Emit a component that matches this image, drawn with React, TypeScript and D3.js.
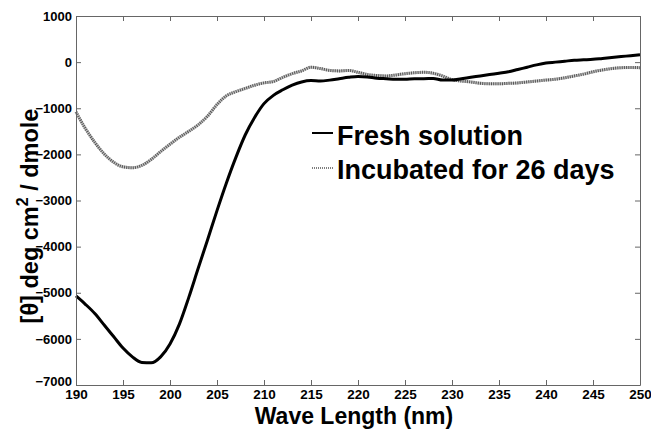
import React, { useRef, useEffect } from 'react';
import * as d3 from 'd3';

// wavelength (nm), 1 nm steps
const waveLengths = d3.range(190, 251);

const freshSolution = [
    -5070, -5250, -5450, -5700, -5950, -6200, -6390, -6510, -6520, -6390,
    -6110, -5680, -5100, -4470, -3850, -3220, -2620, -2070, -1580, -1200,
    -900, -720, -600, -500, -430, -400, -410, -390, -360, -330,
    -310, -320, -350, -360, -370, -370, -360, -360, -355, -390,
    -390, -360, -330, -300, -270, -240, -210, -160, -110, -60,
    -20, 0, 20, 40, 50, 60, 80, 100, 120, 140,
    160
];

const incubated26Days = [
    -1080, -1440, -1740, -1990, -2170, -2270, -2290, -2240, -2110, -1940,
    -1780, -1630, -1500, -1360, -1170, -920, -730, -640, -570, -500,
    -450, -420, -330, -250, -190, -110, -140, -180, -190, -180,
    -220, -270, -290, -300, -280, -250, -230, -220, -240, -300,
    -380, -410, -430, -460, -470, -470, -460, -450, -430, -410,
    -390, -370, -340, -300, -260, -210, -170, -140, -120, -115,
    -120
];

const seriesNames = ["Fresh solution", "Incubated for 26 days"];
const xTicks = d3.range(190, 251, 5);
const yTicks = d3.range(-7000, 1001, 1000);

const App = () => {

    const svgRef = useRef(null);

    useEffect(() => {

        const svgWidth = 651;
        const svgHeight = 429;

        const margin = { top: 16, right: 11, bottom: 44, left: 76 };

        const width = svgWidth - margin.left - margin.right;
        const height = svgHeight - margin.top - margin.bottom;

        const svg = d3.select(svgRef.current)
            .attr("width", svgWidth)
            .attr("height", svgHeight)
            .style("font-family", "'Liberation Sans', Arial, sans-serif");

        svg.selectAll("*").remove();

        const g = svg.append("g").attr("transform", `translate(${margin.left}, ${margin.top})`);

        const xScale = d3.scaleLinear().domain([190, 250]).range([0, width]);
        const yScale = d3.scaleLinear().domain([-7000, 1000]).range([height, 0]);

        const line = d3
            .line()
            .x((d) => xScale(d[0]))
            .y((d) => yScale(d[1]))
            .curve(d3.curveMonotoneX);

        const freshData = waveLengths.map((w, i) => [w, freshSolution[i]]);
        const incData = waveLengths.map((w, i) => [w, incubated26Days[i]]);

        // incubated: grey hatched look
        g.append("path")
            .datum(incData)
            .attr("fill", "none")
            .attr("stroke", "#c4c4c4")
            .attr("stroke-width", 3)
            .attr("d", line);
        g.append("path")
            .datum(incData)
            .attr("fill", "none")
            .attr("stroke", "#555")
            .attr("stroke-width", 3)
            .attr("stroke-dasharray", "1,1.2")
            .attr("d", line);

        g.append("path")
            .datum(freshData)
            .attr("fill", "none")
            .attr("stroke", "#000")
            .attr("stroke-width", 3)
            .attr("stroke-linejoin", "round")
            .attr("d", line);

        // frame + inward ticks on all four sides
        const axisColor = "#666";
        const bottom = g.append("g")
            .attr("transform", `translate(0,${height})`)
            .call(d3.axisBottom(xScale).tickValues(xTicks).tickSizeInner(-5).tickSizeOuter(0).tickPadding(4).tickFormat(d3.format("d")));
        bottom.selectAll("text")
            .attr("font-size", 13.5)
            .attr("font-weight", "bold")
            .attr("fill", "#000");

        g.append("g")
            .call(d3.axisTop(xScale).tickValues(xTicks).tickSizeInner(-5).tickSizeOuter(0).tickFormat(() => ""));

        const left = g.append("g")
            .call(d3.axisLeft(yScale).tickValues(yTicks).tickSizeInner(-5).tickSizeOuter(0).tickPadding(4).tickFormat(d3.format("d")));
        left.selectAll("text")
            .attr("font-size", 13)
            .attr("font-weight", "bold")
            .attr("fill", "#000");
        // lowest label sits a little above the corner, as in the original
        left.selectAll(".tick text").filter((d) => d === -7000).attr("y", -4);

        g.append("g")
            .attr("transform", `translate(${width},0)`)
            .call(d3.axisRight(yScale).tickValues(yTicks).tickSizeInner(-5).tickSizeOuter(0).tickFormat(() => ""));

        g.selectAll(".domain").attr("stroke", axisColor);
        g.selectAll(".tick line").attr("stroke", axisColor);

        // axis titles
        svg.append("text")
            .attr("x", margin.left + width / 2 - 4)
            .attr("y", 424)
            .attr("text-anchor", "middle")
            .attr("font-size", 23)
            .attr("font-weight", "bold")
            .text("Wave Length (nm)");

        const yTitle = svg.append("text")
            .attr("transform", "translate(38, 216) rotate(-90)")
            .attr("text-anchor", "middle")
            .attr("font-size", 23.5)
            .attr("font-weight", "bold");
        yTitle.append("tspan").text("[θ] deg cm");
        yTitle.append("tspan").attr("font-size", 16).attr("dy", -10).text("2");
        yTitle.append("tspan").attr("dy", 10).text(" / dmole");

        // legend
        const legend = svg.append("g").attr("transform", "translate(312, 0)");
        const rows = [145, 179];
        seriesNames.forEach((name, i) => {
            const y = rows[i];
            if (i === 0) {
                legend.append("line")
                    .attr("x1", 0).attr("x2", 21)
                    .attr("y1", y - 12).attr("y2", y - 12)
                    .attr("stroke", "#000").attr("stroke-width", 2);
            } else {
                legend.append("line")
                    .attr("x1", 0).attr("x2", 21)
                    .attr("y1", y - 11).attr("y2", y - 11)
                    .attr("stroke", "#555").attr("stroke-width", 1.5)
                    .attr("stroke-dasharray", "1,1");
            }
            legend.append("text")
                .attr("x", 25)
                .attr("y", y)
                .attr("font-size", 27)
                .attr("font-weight", "bold")
                .text(name);
        });

    }, []);

    return (
        <div style={{ position: "absolute", left: 0, top: 0 }}>
            <svg ref={svgRef} style={{ display: "block", background: "#fff" }} />
        </div>
    );
};

export default App;
